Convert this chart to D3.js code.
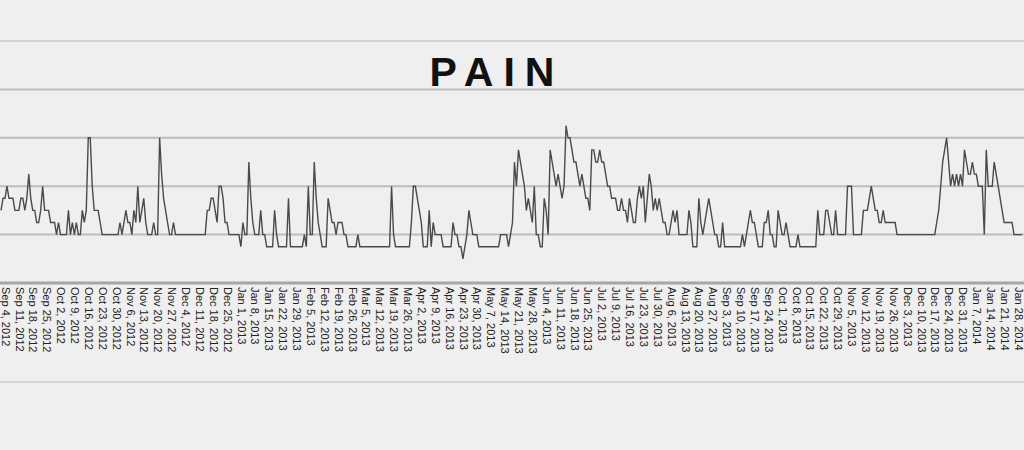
<!DOCTYPE html>
<html>
<head>
<meta charset="utf-8">
<script src="https://cdn.jsdelivr.net/npm/d3@7"></script>
<style>
  html, body { margin: 0; padding: 0; background: #efefef; }
  svg { display: block; }
  .tick line { display: none; }
  .domain { display: none; }
</style>
</head>
<body>
<svg id="chart" width="1024" height="450"></svg>
<script>
// daily pain readings, first one is Sep 2, 2012
var firstDay = new Date(2012, 8, 2);
var pain = [
  1.5,1.75,1.75,2,1.75,1.75,1.75,1.5,1.5,1.5,1.75,1.75,
  1.5,1.75,2.25,1.75,1.5,1.5,1.25,1.25,1.5,2,
  1.5,1.5,1.5,1.25,1.25,1.25,1,1.25,1,1,
  1,1,1.5,1,1.25,1,1.25,1,1,1.5,
  1.25,1.5,3,3,2,1.5,1.5,1.5,1.25,1,
  1,1,1,1,1,1,1,1,1.25,1,
  1.25,1.5,1.25,1.25,1,1.5,1.25,2,1.25,1.5,
  1.75,1.25,1,1,1,1.25,1,1,3,2.25,
  1.75,1.5,1.25,1,1,1.25,1,1,1,1,
  1,1,1,1,1,1,1,1,1,1,
  1,1,1.5,1.5,1.75,1.75,1.5,1.25,2,2,
  1.75,1.25,1.25,1,1,1,1,1,1,0.75,
  1.25,1,1,2.5,1.75,1.25,1,1,1,1.5,
  1,1,0.75,0.75,0.75,0.75,1.5,1,0.75,0.75,
  0.75,0.75,0.75,1.75,0.75,0.75,0.75,0.75,0.75,0.75,
  0.75,1,0.75,2,1,1,2.5,1.75,1.25,1,
  0.75,0.75,0.75,1.75,1.5,1.25,1.25,1,1.25,1.25,
  1.25,1,1,0.75,0.75,0.75,0.75,0.75,1,0.75,
  0.75,0.75,0.75,0.75,0.75,0.75,0.75,0.75,0.75,0.75,
  0.75,0.75,0.75,0.75,0.75,2,1,0.75,0.75,0.75,
  0.75,0.75,0.75,0.75,0.75,1.25,2,2,1.75,1.5,
  1.25,0.75,0.75,0.75,1.5,0.75,1.25,1,1,1,
  1,0.75,0.75,0.75,0.75,0.75,1.25,1,1,0.75,
  0.75,0.5,0.75,1,1.5,1.25,1,1,1,0.75,
  0.75,0.75,0.75,0.75,0.75,0.75,0.75,0.75,0.75,0.75,
  1,1,1,1,0.75,1,1.25,2.5,2,2.75,
  2.5,2.25,2,1.5,1.75,1.5,1.25,2,1,1,
  0.75,0.75,1.75,1.5,1,2.75,2.5,2.25,2,2.25,
  2,1.75,2,3.25,3,3,2.75,2.5,2.5,2.25,
  2,2.25,2,1.75,1.75,1.5,2.75,2.75,2.5,2.5,
  2.75,2.5,2.5,2.25,2,2,1.75,1.75,1.75,1.5,
  1.5,1.75,1.5,1.5,1.25,1.75,1.5,1.25,1.25,1.75,
  2,1.75,2,1.25,1.75,2.25,2,1.5,1.75,1.5,
  1.75,1.5,1.25,1.25,1,1,1.25,1.5,1.25,1.5,
  1,1,1,1,1,1.5,1.25,0.75,0.75,0.75,
  1.75,1.25,1,1.25,1.5,1.75,1.5,1.25,1,1,
  0.75,0.75,1.25,0.75,0.75,0.75,0.75,0.75,0.75,0.75,
  0.75,0.75,1,0.75,1,1.25,1.5,1.25,1.25,1,
  0.75,0.75,0.75,1.25,1.25,1.5,1,1,0.75,0.75,
  1.5,1.25,1,1,1.25,1,0.75,0.75,0.75,0.75,
  1,0.75,0.75,0.75,0.75,0.75,0.75,0.75,0.75,0.75,
  1.5,1,1,1,1.5,1.5,1.25,1,1,1.5,
  1,1,1,1,1,2,2,2,1,1,
  1,1,1,1.5,1.5,1.5,1.75,2,1.75,1.5,
  1.5,1.25,1.25,1.5,1.25,1.25,1.25,1.25,1.25,1.25,
  1,1,1,1,1,1,1,1,1,1,
  1,1,1,1,1,1,1,1,1,1,
  1.25,1.5,2,2.5,2.75,3,2.5,2,2.25,2,
  2.25,2,2.25,2,2.75,2.5,2.25,2.25,2.5,2.25,
  2.25,2,2,2,1,2.75,2,2,2,2.5,
  2.25,2,1.75,1.5,1.25,1.25,1.25,1.25,1.25,1,
  1,1,1,1
];
var gridValues = [1, 2, 3, 4, 5];
var tickFirst = new Date(2012, 8, 4);
var tickLast = new Date(2014, 0, 28);
var title = "PAIN";

var width = 1024, height = 450;
var svg = d3.select("#chart");

var x = d3.scaleTime().domain([tickFirst, tickLast]).range([5, 1018]);
var y = d3.scaleLinear().domain([0, 5]).range([283, 41]);

svg.append("rect").attr("width", width).attr("height", height).attr("fill", "#efefef");

//horizontal grid, full width
svg.selectAll(".grid").data(gridValues).enter().append("line")
  .attr("class", "grid")
  .attr("x1", 0).attr("x2", width)
  .attr("y1", function(d){ return y(d); })
  .attr("y2", function(d){ return y(d); })
  .attr("stroke", function(d){ return d == 5 ? "#b4b4b4" : "#bdbdbd"; })
  .attr("stroke-width", function(d){ return d == 5 ? 1.2 : 2; });

svg.append("line")
  .attr("x1", 0).attr("x2", width).attr("y1", 382).attr("y2", 382)
  .attr("stroke", "#cbcbcb").attr("stroke-width", 1.3);

svg.append("text")
  .attr("x", 497).attr("y", 86)
  .attr("text-anchor", "middle")
  .style("font-family", "'Liberation Sans', Arial, sans-serif")
  .style("font-weight", "bold")
  .style("font-size", "41px")
  .style("letter-spacing", "10px")
  .attr("fill", "#111")
  .text(title);

var series = pain.map(function(v, i){ return {date: d3.timeDay.offset(firstDay, i), value: v}; });

var line = d3.line()
  .x(function(d){ return x(d.date); })
  .y(function(d){ return y(d.value); });

svg.append("path")
  .datum(series)
  .attr("d", line)
  .attr("fill", "none")
  .attr("stroke", "#4a4a4a")
  .attr("stroke-width", 1.4)
  .attr("stroke-linejoin", "miter");

var ticks = d3.timeDay.range(tickFirst, d3.timeDay.offset(tickLast, 1), 7);
var axis = d3.axisBottom(x).tickValues(ticks).tickFormat(d3.timeFormat("%b %-d, %Y")).tickSize(0);

var gx = svg.append("g").attr("transform", "translate(0,283)").call(axis);
gx.selectAll("text")
  .attr("transform", "rotate(90)")
  .attr("x", 4).attr("y", 0).attr("dy", "0.35em")
  .style("text-anchor", "start")
  .style("font-family", "'Liberation Sans', Arial, sans-serif")
  .style("font-size", "11px")
  .attr("fill", "#222");

svg.append("line")
  .attr("x1", 0).attr("x2", width).attr("y1", 283).attr("y2", 283)
  .attr("stroke", "#a6a6a6").attr("stroke-width", 3);
</script>
</body>
</html>
